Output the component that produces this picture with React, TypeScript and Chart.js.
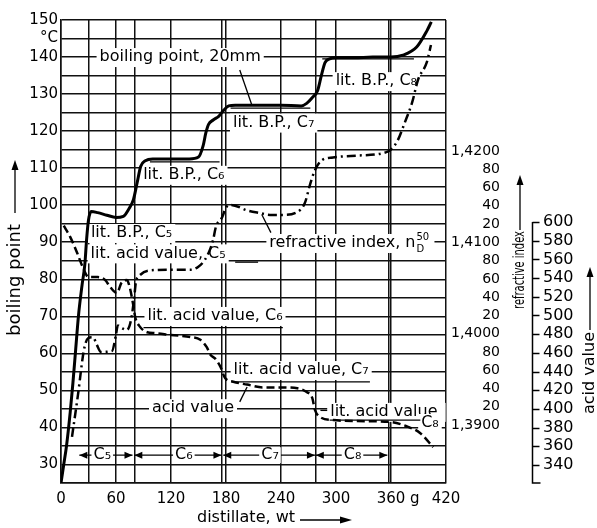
import React, { useEffect, useRef } from "react";
import { Chart, registerables } from "chart.js";
Chart.register(...registerables);

// ---------- data ----------
// boiling point, 20 mm (°C) vs distillate weight (g)
const bpX = [0, 3, 6, 10, 13, 16, 19, 23, 26, 28, 30, 33, 40, 50, 60, 68, 74, 79, 83, 87, 92, 100, 120, 140, 150, 155, 158, 161, 166, 172, 177, 183, 190, 210, 240, 262, 268, 274, 280, 284, 288, 293, 300, 320, 340, 360, 373, 388, 399, 404];
const bpY = [25, 30, 35, 44, 52, 61, 70, 78.5, 84, 91, 96, 98.3, 98, 97.3, 96.7, 97, 99, 101.5, 106, 110.5, 112, 112.5, 112.5, 112.5, 113, 116, 119.5, 121.8, 123, 124, 125.5, 126.8, 127, 127, 127, 126.8, 127.5, 129, 131, 135, 138.5, 139.5, 139.8, 139.8, 140, 140, 140.5, 142.7, 147, 149.5];

// refractive index n_D^50
const riX = [12, 18.5, 25, 29.5, 35, 39, 43.6, 55.6, 60, 62, 66.5, 72, 76.4, 79.6, 81.8, 86, 95, 119, 141, 149.5, 157, 162.5, 166, 169, 175.6, 180, 185.5, 203, 217, 228, 242, 257.5, 266, 271.6, 277, 284.7, 296.7, 323, 355.6, 366.5, 375, 383, 389.5, 399, 403.6];
const riY = [1.3887, 1.3933, 1.3982, 1.3995, 1.3996, 1.3988, 1.398, 1.3981, 1.3999, 1.4009, 1.4006, 1.4004, 1.4015, 1.4037, 1.4057, 1.4064, 1.4069, 1.407, 1.407, 1.4073, 1.4081, 1.4092, 1.4103, 1.4117, 1.4127, 1.4138, 1.4141, 1.4135, 1.4132, 1.413, 1.413, 1.4133, 1.4143, 1.4163, 1.4179, 1.419, 1.4193, 1.4195, 1.4199, 1.421, 1.4231, 1.4253, 1.4278, 1.4297, 1.4316];

// acid value
const avX = [3, 10, 18, 24, 30, 40, 48, 54, 61, 66, 72, 75, 78.5, 81, 86, 94, 103, 120, 141, 152, 159, 163, 168, 174, 179, 188, 203, 220, 242, 258, 268, 274, 277, 283, 297, 323, 359, 378, 392, 406];
const avY = [596, 584, 566, 551, 541, 541, 538, 530, 524, 535, 538, 530, 513, 498, 488, 482, 481, 479, 477, 474, 466, 458, 454, 445, 433, 429, 426, 423, 423, 422, 418, 412, 399, 391, 388, 387, 386, 381, 374, 359];

// axis ticks
const xGridTicks = [0, 30, 60, 80, 120, 175, 180, 240, 278, 300, 357, 360, 420];
const xTickLabels = [0, 60, 120, 180, 240, 300, 360, 420];
const bpTicks = [25, 30, 35, 40, 45, 50, 55, 60, 65, 70, 75, 80, 85, 90, 95, 100, 105, 110, 115, 120, 125, 130, 135, 140, 145, 150];
const riTicks = [1.39, 1.392, 1.394, 1.396, 1.398, 1.4, 1.402, 1.404, 1.406, 1.408, 1.41, 1.412, 1.414, 1.416, 1.418, 1.42];
const avTicks = [340, 360, 380, 400, 420, 440, 460, 480, 500, 520, 540, 560, 580, 600];

// literature reference lines
const litBpValue = [111.7, 126.2, 139.5];
const litBpFrom = [97, 185, 285];
const litBpTo = [173, 272, 385];
const litAvValue = [557, 487, 429, 388];
const litAvFrom = [190, 90, 186, 293];
const litAvTo = [215, 242, 337, 392];

// fraction ranges
const fracNames = ["C₅", "C₆", "C₇", "C₈"];
const fracStart = [20, 80, 177, 278];
const fracEnd = [78, 175, 277, 356];
const fracLabelAt = [45, 134, 228, 318];
const fracLevel = 32.5;

// text notes (x in g, y on boiling-point scale)
const noteText = ["boiling point, 20mm", "lit. B.P., C₆", "lit. B.P., C₇", "lit. B.P., C₈", "lit. B.P., C₅", "lit. acid value, C₅", "lit. acid value, C₆", "lit. acid value, C₇", "lit. acid value,", "C₈", "acid value", "refractive index, n"];
const noteX = [130, 134, 232, 344, 77, 106, 168, 262, 355, 402.5, 144, 307];
const noteY = [140, 108.2, 122.3, 133.5, 92.5, 87, 70.1, 55.5, 44.2, 41.2, 45.2, 89.8];

// leader lines
const leaderX1 = [195, 195, 219, 283];
const leaderY1 = [136.5, 46.9, 97.5, 44.6];
const leaderX2 = [208, 203, 229, 292];
const leaderY2 = [127.2, 50.9, 92.6, 44.6];

const FONT = '"DejaVu Sans"';
const AV_OFFSET = 32; // bracket offset inside the acid-value axis box

function arrowHead(ctx: CanvasRenderingContext2D, x: number, y: number, dx: number, dy: number, len = 8, half = 3.5) {
  const l = Math.hypot(dx, dy);
  const ux = dx / l, uy = dy / l;
  ctx.beginPath();
  ctx.moveTo(x, y);
  ctx.lineTo(x - ux * len - uy * half, y - uy * len + ux * half);
  ctx.lineTo(x - ux * len + uy * half, y - uy * len - ux * half);
  ctx.closePath();
  ctx.fill();
}

const notesPlugin = {
  id: "notes",
  beforeDatasetsDraw(chart: any) {
    const { ctx, scales } = chart;
    const xs = scales.x, ys = scales.y;
    ctx.save();
    ctx.strokeStyle = "#000";
    ctx.fillStyle = "#000";
    ctx.lineWidth = 1.3;
    leaderX1.forEach((_, i) => {
      ctx.beginPath();
      ctx.moveTo(xs.getPixelForValue(leaderX1[i]), ys.getPixelForValue(leaderY1[i]));
      ctx.lineTo(xs.getPixelForValue(leaderX2[i]), ys.getPixelForValue(leaderY2[i]));
      ctx.stroke();
    });
    ctx.font = `16px ${FONT}`;
    ctx.textAlign = "center";
    ctx.textBaseline = "middle";
    const fy = ys.getPixelForValue(fracLevel);
    fracNames.forEach((name, i) => {
      const a = xs.getPixelForValue(fracStart[i]);
      const b = xs.getPixelForValue(fracEnd[i]);
      ctx.lineWidth = 1.3;
      ctx.beginPath();
      ctx.moveTo(a, fy);
      ctx.lineTo(b, fy);
      ctx.stroke();
      arrowHead(ctx, a, fy, -1, 0);
      arrowHead(ctx, b, fy, 1, 0);
      const lx = xs.getPixelForValue(fracLabelAt[i]);
      const w = ctx.measureText(name).width;
      ctx.fillStyle = "#fff";
      ctx.fillRect(lx - w / 2 - 2, fy - 8, w + 4, 16);
      ctx.fillStyle = "#000";
      ctx.fillText(name, lx, fy);
    });
    noteText.forEach((t, i) => {
      const px = xs.getPixelForValue(noteX[i]);
      const py = ys.getPixelForValue(noteY[i]);
      ctx.font = `16px ${FONT}`;
      const w = ctx.measureText(t).width;
      const extra = t.endsWith(", n") ? 16 : 0;
      ctx.fillStyle = "#fff";
      ctx.fillRect(px - w / 2 - 3, py - 9, w + 6 + extra, 19);
      ctx.fillStyle = "#000";
      ctx.textAlign = "center";
      ctx.fillText(t, px, py);
      if (extra) {
        ctx.font = `10px ${FONT}`;
        ctx.textAlign = "left";
        ctx.fillText("50", px + w / 2 + 1, py - 6);
        ctx.fillText("D", px + w / 2 + 1, py + 6);
      }
    });
    ctx.restore();
  },
  afterDraw(chart: any) {
    const { ctx, scales, chartArea } = chart;
    ctx.save();
    ctx.fillStyle = "#000";
    ctx.strokeStyle = "#000";
    ctx.lineWidth = 1.5;
    const av = scales.yAV;
    const bx = Math.round(av.left + AV_OFFSET) + 0.5;
    const top = av.getPixelForValue(600);
    ctx.beginPath();
    ctx.moveTo(bx, top);
    ctx.lineTo(bx, chartArea.bottom);
    ctx.lineTo(bx + 8, chartArea.bottom);
    ctx.stroke();
    avTicks.forEach((v) => {
      const y = Math.round(av.getPixelForValue(v)) + 0.5;
      ctx.beginPath();
      ctx.moveTo(bx, y);
      ctx.lineTo(bx + 7, y);
      ctx.stroke();
    });

    const vTitle = (text: string, x: number, yc: number, a0: number, a1: number, size: number, sx: number) => {
      ctx.save();
      ctx.font = `${size}px ${FONT}`;
      ctx.translate(x, yc);
      ctx.rotate(-Math.PI / 2);
      ctx.scale(sx, 1);
      ctx.textAlign = "center";
      ctx.textBaseline = "middle";
      ctx.fillText(text, 0, 0);
      ctx.restore();
      ctx.lineWidth = 1.3;
      ctx.beginPath();
      ctx.moveTo(x, a0);
      ctx.lineTo(x, a1 + 6);
      ctx.stroke();
      arrowHead(ctx, x, a1, 0, -1, 10, 3.5);
    };
    vTitle("boiling point", 15, 280, 213, 160, 18, 1);
    vTitle("refractive index", 520, 270, 230, 175, 15, 0.66);
    vTitle("acid value", 590, 373, 330, 267, 16, 1);

    ctx.font = `16px ${FONT}`;
    ctx.textAlign = "center";
    ctx.textBaseline = "middle";
    ctx.fillText("distillate, wt", 246, 518);
    ctx.lineWidth = 1.3;
    ctx.beginPath();
    ctx.moveTo(300, 520);
    ctx.lineTo(346, 520);
    ctx.stroke();
    arrowHead(ctx, 352, 520, 1, 0, 12, 3.5);
    ctx.restore();
  },
};

const pts = (xs: number[], ys: number[]) => xs.map((x, i) => ({ x, y: ys[i] }));
const seg = (a: number, b: number, v: number) => [{ x: a, y: v }, { x: b, y: v }];

export default function App() {
  const ref = useRef<HTMLCanvasElement | null>(null);
  useEffect(() => {
    if (!ref.current) return;
    Chart.defaults.font.family = FONT;
    Chart.defaults.color = "#000";
    const grid = { color: "#111", lineWidth: 1.5, drawTicks: false };
    const litStyle = { borderColor: "#000", borderWidth: 1.3, pointRadius: 0, fill: false };
    const chart = new Chart(ref.current, {
      type: "line",
      data: {
        datasets: [
          { label: "boiling point", data: pts(bpX, bpY), yAxisID: "y", borderColor: "#000", borderWidth: 3, pointRadius: 0, cubicInterpolationMode: "monotone", fill: false },
          { label: "refractive index", data: pts(riX, riY), yAxisID: "yRI", borderColor: "#000", borderWidth: 2.5, borderDash: [9, 4, 2, 4], pointRadius: 0, cubicInterpolationMode: "monotone", fill: false },
          { label: "acid value", data: pts(avX, avY), yAxisID: "yAV", borderColor: "#000", borderWidth: 2.5, borderDash: [8, 4], pointRadius: 0, cubicInterpolationMode: "monotone", fill: false },
          ...litBpValue.map((v, i) => ({ label: "lit bp " + i, data: seg(litBpFrom[i], litBpTo[i], v), yAxisID: "y", ...litStyle })),
          ...litAvValue.map((v, i) => ({ label: "lit av " + i, data: seg(litAvFrom[i], litAvTo[i], v), yAxisID: "yAV", ...litStyle })),
        ] as any,
      },
      options: {
        animation: false,
        responsive: false,
        layout: { padding: { top: 20, left: 0, right: 0, bottom: 0 } },
        plugins: { legend: { display: false }, tooltip: { enabled: false } },
        scales: {
          x: {
            type: "linear",
            min: 0,
            max: 420,
            afterBuildTicks: (s: any) => { s.ticks = xGridTicks.map((v) => ({ value: v })); },
            afterFit: (s: any) => { s.height = 45; },
            grid,
            border: { color: "#111", width: 1.5 },
            ticks: {
              autoSkip: false,
              maxRotation: 0,
              padding: 7,
              font: { size: 15 },
              callback: (v: any) => (xTickLabels.includes(v) ? (v === 360 ? "\u00a0\u00a0\u00a0360 g" : String(v)) : ""),
            },
          },
          y: {
            type: "linear",
            position: "left",
            min: 25,
            max: 150,
            afterBuildTicks: (s: any) => { s.ticks = bpTicks.map((v) => ({ value: v })); },
            afterFit: (s: any) => { s.width = 61; },
            grid,
            border: { color: "#111", width: 1.5 },
            ticks: {
              autoSkip: false,
              padding: 3,
              font: { size: 15 },
              callback: (v: any) => (v % 10 === 0 ? String(v) : v === 145 ? "°C" : ""),
            },
          },
          yRI: {
            type: "linear",
            position: "right",
            weight: 0,
            min: 1.383648,
            max: 1.434344,
            afterBuildTicks: (s: any) => { s.ticks = riTicks.map((v) => ({ value: v })); },
            afterFit: (s: any) => { s.width = 54; s.paddingTop = 8; s.paddingBottom = 8; },
            grid: { display: false, drawTicks: false, drawOnChartArea: false },
            border: { display: false },
            ticks: {
              autoSkip: false,
              padding: 0,
              crossAlign: "far",
              font: { size: 14 },
              callback: (v: any) => {
                const n = Math.round(v * 10000);
                return n % 100 === 0 ? "1," + String(n).slice(1) : String(n % 100);
              },
            },
          },
          yAV: {
            type: "linear",
            position: "right",
            weight: 1,
            min: 320.7,
            max: 816.1,
            afterBuildTicks: (s: any) => { s.ticks = avTicks.map((v) => ({ value: v })); },
            afterFit: (s: any) => { s.width = 97; s.paddingTop = 8; s.paddingBottom = 8; },
            grid: { display: false, drawTicks: false, drawOnChartArea: false },
            border: { display: false },
            ticks: { autoSkip: false, padding: 43, font: { size: 16 } },
          },
        },
      } as any,
      plugins: [notesPlugin],
    });
    return () => chart.destroy();
  }, []);
  return (
    <div style={{ position: "fixed", left: 0, top: 0, width: 597, height: 528, background: "#fff" }}>
      <canvas ref={ref} width={597} height={528} />
    </div>
  );
}
